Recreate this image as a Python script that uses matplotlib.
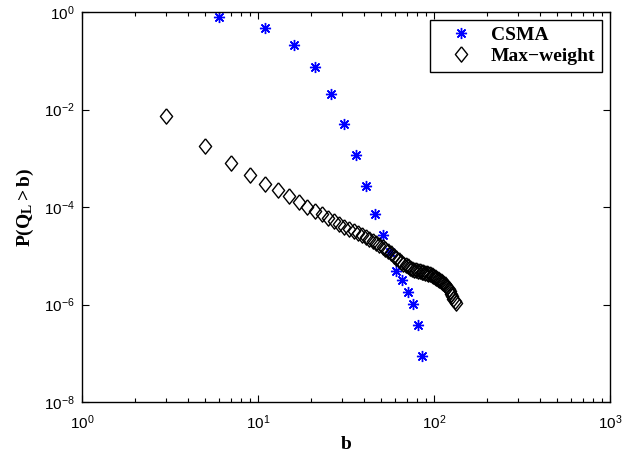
import matplotlib
matplotlib.use("Agg")
from matplotlib import pyplot as plt
from matplotlib.ticker import LogLocator, NullLocator

# 字体配置：刻度用无衬线，标签/图例用粗体衬线
plt.rcParams['font.family'] = ['Liberation Sans', 'DejaVu Sans']
plt.rcParams['mathtext.fontset'] = 'custom'
plt.rcParams['mathtext.rm'] = 'Liberation Sans'
plt.rcParams['mathtext.bf'] = 'Liberation Serif:bold'
plt.rcParams['mathtext.it'] = 'Liberation Sans:italic'

# CSMA 数据
csma_b = [6, 11, 16, 21, 26, 31, 36, 41, 46, 51, 56, 61, 66, 71, 76, 81, 86]
csma_p = [0.80, 0.476, 0.213, 0.0733, 0.0208, 5.12e-3, 1.17e-3, 2.66e-4,
          7.3e-5, 2.67e-5, 1.21e-5, 4.94e-6, 3.13e-6, 1.78e-6, 1.01e-6,
          3.85e-7, 8.8e-8]

# Max-weight 数据
mw_b = list(range(3, 134, 2))
mw_p = [7.24e-3, 1.82e-3, 7.94e-4, 4.57e-4, 3.02e-4, 2.19e-4, 1.66e-4, 1.29e-4,
        1.02e-4, 8.32e-5, 7.08e-5, 6.03e-5, 5.13e-5, 4.47e-5, 3.98e-5, 3.55e-5,
        3.16e-5, 2.88e-5, 2.63e-5, 2.40e-5, 2.19e-5, 2.00e-5, 1.82e-5, 1.66e-5,
        1.51e-5, 1.38e-5, 1.26e-5, 1.12e-5, 1.00e-5, 9.12e-6, 8.32e-6, 7.59e-6,
        6.92e-6, 6.46e-6, 6.03e-6, 5.62e-6, 5.37e-6, 5.13e-6, 5.01e-6, 4.90e-6,
        4.79e-6, 4.68e-6, 4.57e-6, 4.47e-6, 4.37e-6, 4.27e-6, 4.17e-6, 4.07e-6,
        3.89e-6, 3.72e-6, 3.55e-6, 3.39e-6, 3.24e-6, 3.09e-6, 2.95e-6, 2.82e-6,
        2.63e-6, 2.45e-6, 2.24e-6, 2.04e-6, 1.86e-6, 1.66e-6, 1.48e-6, 1.32e-6,
        1.17e-6, 1.05e-6]

fig = plt.figure(figsize=(6.34, 4.55), dpi=100)
ax = fig.add_axes([82/634, 1-402/455, (610-82)/634, (402-12)/455])

diamond = [(0, 1), (0.8, 0), (0, -1), (-0.8, 0), (0, 1)]
ax.plot(csma_b, csma_p, linestyle='none', marker=(8, 2, 0), markersize=8,
        markeredgecolor='#0000ff', markeredgewidth=1.0, label='CSMA')
ax.plot(mw_b, mw_p, linestyle='none', marker=diamond, markersize=11,
        markerfacecolor='none', markeredgecolor='k', markeredgewidth=1.0,
        label='Max\u2212weight')

ax.set_xscale('log')
ax.set_yscale('log')
ax.set_xlim(1, 1000)
ax.set_ylim(1e-8, 1)
ax.yaxis.set_major_locator(LogLocator(base=100))
ax.yaxis.set_minor_locator(NullLocator())

ax.tick_params(which='both', direction='in', top=True, right=True,
               labelsize=11, pad=5)
ax.tick_params(axis='x', which='major', pad=8)
ax.tick_params(which='major', length=5, width=0.8)
ax.tick_params(which='minor', length=3, width=0.8)
for s in ax.spines.values():
    s.set_linewidth(1.0)

ax.set_xlabel('b', fontfamily='Liberation Serif', fontweight='bold',
              fontsize=14, labelpad=3)
ax.set_ylabel(r'$\mathbf{P(Q_L > b)}$', fontsize=14, labelpad=6)

leg = ax.legend(loc='upper right', prop={'family': 'Liberation Serif',
                'weight': 'bold', 'size': 14},
                numpoints=1, fancybox=False, framealpha=1, edgecolor='k',
                borderpad=0.35, handlelength=2.5, handletextpad=0.3,
                labelspacing=0.15, borderaxespad=0.4)
leg.get_frame().set_linewidth(1.0)

fig.savefig('out.png', dpi=100)
